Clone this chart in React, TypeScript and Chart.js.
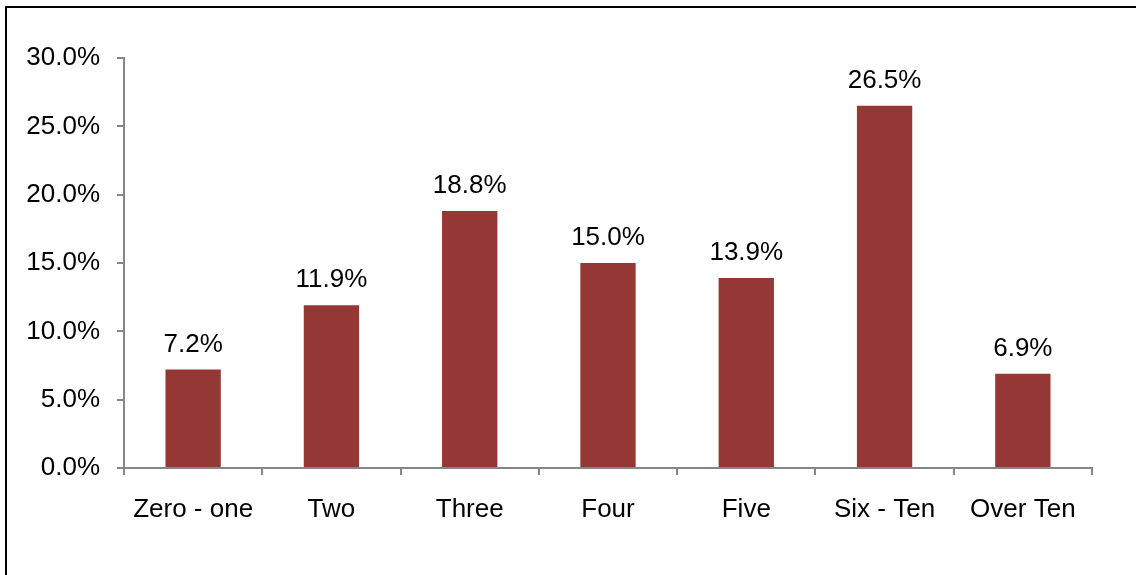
import React, { useEffect, useRef } from "react";
import { Chart, registerables } from "chart.js";

Chart.register(...registerables);

const categories = ["Zero - one", "Two", "Three", "Four", "Five", "Six - Ten", "Over Ten"];
const shares = [7.2, 11.9, 18.8, 15.0, 13.9, 26.5, 6.9];
const yMin = 0;
const yMax = 30;
const yStep = 5;

const FONT = "'Liberation Sans', Arial, sans-serif";
const AXIS_GRAY = "#868686";
const BAR_COLOR = "#953735";

const dataLabelPlugin = {
  id: "dataLabels",
  afterDatasetsDraw(chart: any) {
    const ctx = chart.ctx;
    const meta = chart.getDatasetMeta(0);
    ctx.save();
    ctx.font = `26px ${FONT}`;
    ctx.fillStyle = "#000000";
    ctx.textAlign = "center";
    ctx.textBaseline = "alphabetic";
    meta.data.forEach((bar: any, i: number) => {
      const v = chart.data.datasets[0].data[i] as number;
      ctx.fillText(v.toFixed(1) + "%", bar.x, bar.y - 18);
    });
    ctx.restore();
  },
};

export default function App() {
  const canvasRef = useRef<HTMLCanvasElement>(null);

  useEffect(() => {
    if (!canvasRef.current) return;
    const chart = new Chart(canvasRef.current, {
      type: "bar",
      data: {
        labels: categories,
        datasets: [
          {
            data: shares,
            backgroundColor: BAR_COLOR,
            borderWidth: 0,
            categoryPercentage: 1,
            barPercentage: 0.4,
          },
        ],
      },
      options: {
        responsive: false,
        animation: false,
        layout: { padding: { left: 0, right: 44, top: 58, bottom: 0 } },
        plugins: {
          legend: { display: false },
          tooltip: { enabled: false },
          title: { display: false },
        },
        scales: {
          x: {
            grid: {
              display: true,
              drawOnChartArea: false,
              drawTicks: true,
              tickLength: 7,
              color: AXIS_GRAY,
              lineWidth: 2,
              offset: true,
            },
            border: { display: true, color: AXIS_GRAY, width: 2 },
            ticks: {
              color: "#000000",
              font: { family: FONT, size: 26 },
              padding: 19,
              maxRotation: 0,
              autoSkip: false,
            },
            afterFit(scale: any) {
              scale.height = 107;
            },
          },
          y: {
            min: yMin,
            max: yMax,
            grid: {
              display: true,
              drawOnChartArea: false,
              drawTicks: true,
              tickLength: 7,
              color: AXIS_GRAY,
              lineWidth: 2,
            },
            border: { display: true, color: AXIS_GRAY, width: 2 },
            ticks: {
              stepSize: yStep,
              color: "#000000",
              font: { family: FONT, size: 26 },
              padding: 17,
              callback: (v: any) => Number(v).toFixed(1) + "%",
            },
            afterFit(scale: any) {
              scale.width = 124;
            },
          },
        },
      },
      plugins: [dataLabelPlugin],
    });
    return () => chart.destroy();
  }, []);

  return (
    <div
      style={{
        position: "fixed",
        left: 0,
        top: 0,
        width: 1136,
        height: 575,
        overflow: "hidden",
        background: "#ffffff",
      }}
    >
      <div
        style={{
          position: "absolute",
          left: 5,
          top: 6,
          width: 2000,
          height: 2000,
          border: "2px solid #000000",
        }}
      />
      <canvas
        ref={canvasRef}
        width={1136}
        height={575}
        style={{ position: "absolute", left: 0, top: 0, width: 1136, height: 575 }}
      />
    </div>
  );
}
